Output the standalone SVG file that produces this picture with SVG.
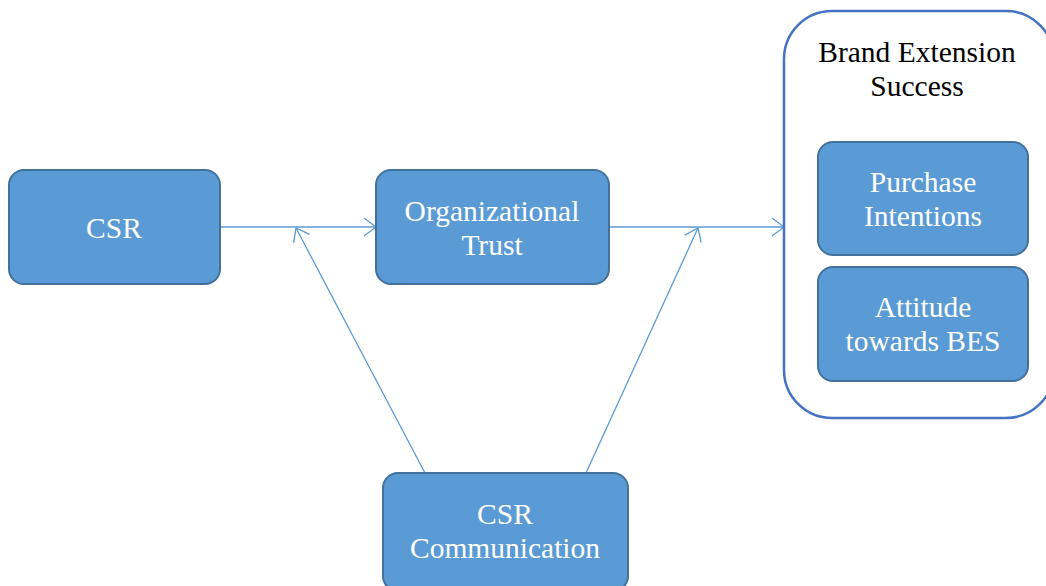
<svg xmlns="http://www.w3.org/2000/svg" width="1046" height="586" viewBox="0 0 1046 586">
<defs>
<style>
.node{fill:#5b9bd5;stroke:#41719c;stroke-width:2}
.lbl{font-family:"Liberation Serif","Times New Roman",serif;font-size:29.5px;fill:#ffffff;text-anchor:middle}
.blk{font-family:"Liberation Serif","Times New Roman",serif;font-size:29.5px;fill:#000000;text-anchor:middle}
.con{stroke:#5b9bd5;stroke-width:1.3;fill:none}
</style>
<marker id="arr" viewBox="0 0 14 20" refX="13" refY="10" markerWidth="14" markerHeight="20" markerUnits="userSpaceOnUse" orient="auto">
<path d="M1,1 L13,10 L1,19" fill="none" stroke="#5b9bd5" stroke-width="1.3"/>
</marker>
</defs>
<rect width="1046" height="586" fill="#ffffff"/>
<g id="connectors">
<line class="con" x1="220" y1="227" x2="376" y2="227" marker-end="url(#arr)"/>
<line class="con" x1="609" y1="227" x2="784" y2="227" marker-end="url(#arr)"/>
<line class="con" x1="425" y1="473" x2="296" y2="228" marker-end="url(#arr)"/>
<line class="con" x1="586" y1="473" x2="698" y2="228" marker-end="url(#arr)"/>
</g>
<g id="csr">
<rect class="node" x="9" y="170" width="211" height="114" rx="15"/>
<text class="lbl" x="114" y="238">CSR</text>
</g>
<g id="org-trust">
<rect class="node" x="376" y="170" width="233" height="114" rx="15"/>
<text class="lbl" x="492" y="221">Organizational</text>
<text class="lbl" x="492" y="255">Trust</text>
</g>
<g id="csr-communication">
<rect class="node" x="383" y="473" width="245" height="118" rx="15"/>
<text class="lbl" x="505" y="524">CSR</text>
<text class="lbl" x="505" y="558">Communication</text>
</g>
<g id="brand-extension-success">
<rect x="784" y="11" width="270" height="407" rx="48" fill="#ffffff" stroke="#4472c4" stroke-width="2.5"/>
<text class="blk" x="917" y="62">Brand Extension</text>
<text class="blk" x="917" y="96">Success</text>
</g>
<g id="purchase-intentions">
<rect class="node" x="818" y="142" width="210" height="113" rx="15"/>
<text class="lbl" x="923" y="192">Purchase</text>
<text class="lbl" x="923" y="226">Intentions</text>
</g>
<g id="attitude">
<rect class="node" x="818" y="267" width="210" height="114" rx="15"/>
<text class="lbl" x="923" y="317">Attitude</text>
<text class="lbl" x="923" y="351">towards BES</text>
</g>
</svg>
